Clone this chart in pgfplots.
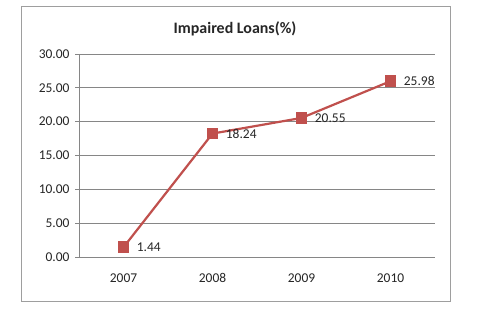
\documentclass[border=0pt]{standalone}
\usepackage{pgfplots}
\pgfplotsset{compat=1.18}
\usepackage{fontspec}
\setmainfont{Carlito}
\definecolor{exred}{HTML}{C0504D}
\definecolor{gridgray}{HTML}{868686}
\begin{document}
\begin{tikzpicture}[x=1bp,y=1bp]
\path[use as bounding box] (0,0) rectangle (477,314);
\fill[white] (0,0) rectangle (477,314);
\draw[gridgray!80, line width=1bp] (21,13) rectangle (450.5,307);
\node[font=\fontsize{16}{18}\selectfont\bfseries, text=black!85] at (235,285.5) {Impaired Loans(\%)};
\begin{axis}[
  at={(79bp,57bp)}, anchor=south west,
  scale only axis, width=356bp, height=203bp,
  xmin=-0.5, xmax=3.5, ymin=0, ymax=30,
  xtick={0,1,2,3}, xticklabels={2007,2008,2009,2010},
  extra x ticks={-0.5,0.5,1.5,2.5,3.5}, extra x tick labels={},
  extra x tick style={tick style={gridgray, line width=0.8bp}, major tick length=4bp, tick align=outside},
  ytick={0,5,...,30},
  yticklabel={\pgfmathprintnumber[fixed,fixed zerofill,precision=2]{\tick}},
  ymajorgrids, major grid style={gridgray, line width=0.8bp},
  axis x line*=bottom, axis y line*=left,
  axis line style={gridgray, line width=0.8bp},
  x axis line style={-}, y axis line style={-},
  major x tick style={draw=none},
  ytick style={gridgray, line width=0.8bp},
  major tick length=4bp, tick align=outside,
  tick label style={font=\fontsize{13.5}{15}\selectfont, text=black!85},
  /pgf/number format/assume math mode=true,
  yticklabel style={xshift=-2bp},
  xticklabel style={yshift=-9bp},
  clip=false,
]
\addplot[color=exred, line width=2.2bp, mark=square*, mark size=4.8bp, mark options={solid, fill=exred},
  nodes near coords, point meta=explicit symbolic,
  every node near coord/.style={anchor=west, xshift=9bp, font=\fontsize{13.5}{15}\selectfont, text=black!85}]
  coordinates {(0,1.44)[1.44] (1,18.24)[18.24] (2,20.55)[20.55] (3,25.98)[25.98]};
\end{axis}
\end{tikzpicture}
\end{document}
